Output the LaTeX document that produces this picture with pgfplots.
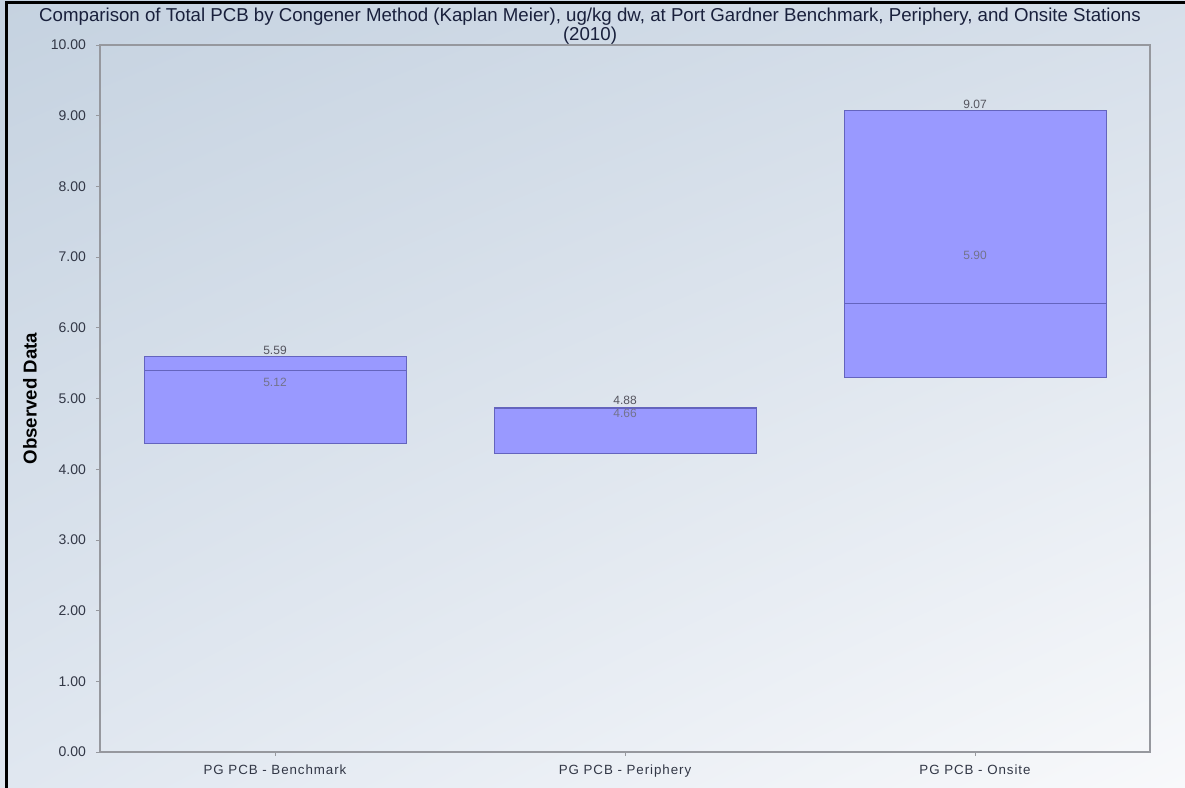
\documentclass[border=0pt]{standalone}
\usepackage{pgfplots}
\pgfplotsset{compat=1.18}
\usepgfplotslibrary{statistics}
\usetikzlibrary{shadings}
\usepackage{fontspec}
\setmainfont{Liberation Sans}

\definecolor{boxfill}{RGB}{153,153,255}
\definecolor{boxedge}{RGB}{100,100,190}
\definecolor{titlecol}{RGB}{25,32,60}
\definecolor{tickcol}{RGB}{50,55,70}
\definecolor{vallab}{RGB}{85,85,95}
\definecolor{innerlab}{RGB}{115,115,140}
\definecolor{framecol}{RGB}{150,152,158}
\definecolor{bgA}{RGB}{197,210,224}
\definecolor{bgB}{RGB}{214,223,234}
\definecolor{bgC}{RGB}{224,231,240}
\definecolor{bgD}{RGB}{248,249,251}

\tikzset{
  stationbox/.style={fill=boxfill, draw=boxedge, line width=0.6pt, solid, mark=none},
  vlabel/.style={font=\fontsize{9}{10}\selectfont, text=vallab, inner sep=1.5pt},
  ilabel/.style={font=\fontsize{9}{10}\selectfont, text=innerlab},
}

\begin{document}
\begin{tikzpicture}
% page background
\shade[upper left=bgA, upper right=bgB, lower left=bgC, lower right=bgD]
  (0,0) rectangle (888.75pt,591pt);
\useasboundingbox (0,0) rectangle (888.75pt,591pt);

\begin{axis}[
  at={(75pt,27pt)}, anchor=south west,
  scale only axis, width=787.5pt, height=530.25pt,
  xmin=-0.5, xmax=2.5, ymin=0, ymax=10,
  axis line style={draw=framecol, line width=0.8pt},
  ytick={0,1,...,10},
  yticklabel style={font=\fontsize{10.5}{12}\selectfont, text=tickcol, xshift=-4pt,
    /pgf/number format/fixed, /pgf/number format/fixed zerofill,
    /pgf/number format/precision=2, /pgf/number format/assume math mode=true},
  xtick={0,1,2},
  xticklabels={PG PCB - Benchmark, PG PCB - Periphery, PG PCB - Onsite},
  xticklabel style={font=\fontsize{10}{12}\selectfont\addfontfeature{LetterSpace=7},
    text=tickcol, yshift=-3pt},
  xtick pos=bottom, ytick pos=left,
  tick align=outside, major tick length=3pt,
  tick style={draw=framecol, line width=0.5pt},
  ylabel={\textbf{Observed Data}},
  ylabel style={font=\fontsize{14}{16}\selectfont, text=black,
    at={(axis description cs:-0.0667,0.5)}, anchor=center, rotate=0},
  boxplot/draw direction=y,
  boxplot/box extend=0.748,
  boxplot/whisker extend=0,
  clip=false,
]
% PG PCB - Benchmark: low 4.36, median 5.40, high 5.59
\addplot+[stationbox, boxplot prepared={draw position=0,
  lower whisker=4.36, lower quartile=4.36, median=5.40,
  upper quartile=5.59, upper whisker=5.59}] coordinates {};
% PG PCB - Periphery: low 4.23, median 4.86, high 4.88
\addplot+[stationbox, boxplot prepared={draw position=1,
  lower whisker=4.23, lower quartile=4.23, median=4.86,
  upper quartile=4.88, upper whisker=4.88}] coordinates {};
% PG PCB - Onsite: low 5.30, median 6.35, high 9.07
\addplot+[stationbox, boxplot prepared={draw position=2,
  lower whisker=5.30, lower quartile=5.30, median=6.35,
  upper quartile=9.07, upper whisker=9.07}] coordinates {};

% value labels above the boxes
\node[vlabel, anchor=south] at (axis cs:0,5.59) {5.59};
\node[vlabel, anchor=south] at (axis cs:1,4.88) {4.88};
\node[vlabel, anchor=south] at (axis cs:2,9.07) {9.07};
% labels inside the boxes
\node[ilabel] at (axis cs:0,5.23) {5.12};
\node[ilabel] at (axis cs:1,4.79) {4.66};
\node[ilabel] at (axis cs:2,7.03) {5.90};
\end{axis}

% title
\node[font=\fontsize{14}{15}\selectfont, text=titlecol, align=center, inner sep=0pt]
  at (442.5pt,571.5pt)
  {Comparison of Total PCB by Congener Method (Kaplan Meier), ug/kg dw, at Port Gardner Benchmark, Periphery, and Onsite Stations\\[-1pt](2010)};

% outer frame
\draw[line width=2.2pt, black] (4.9pt,0) -- (4.9pt,588.9pt) -- (888.75pt,588.9pt);
\end{tikzpicture}
\end{document}
